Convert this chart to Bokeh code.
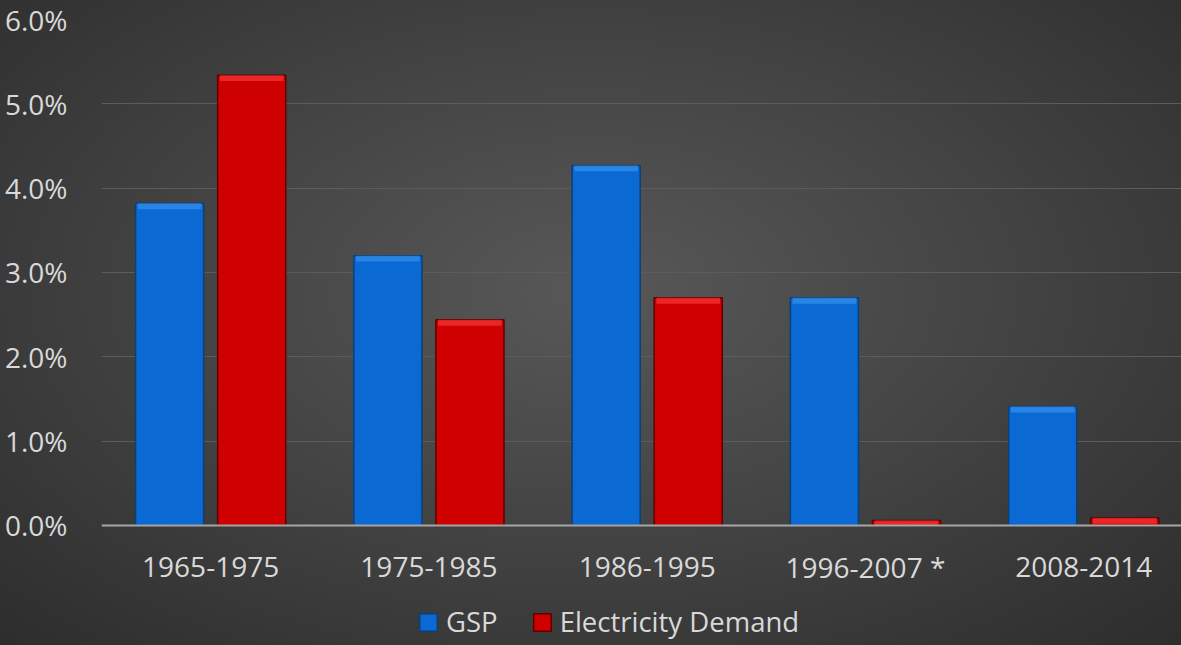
import numpy as np
from bokeh.plotting import figure
from bokeh.models import (ColumnDataSource, Range1d, FixedTicker, PrintfTickFormatter,
                          Legend, LegendItem, Span)
from bokeh.core.properties import value
from bokeh.embed import file_html
from bokeh.resources import INLINE

# Average annual growth by period
periods = ["1965-1975", "1975-1985", "1986-1995", "1996-2007 *", "2008-2014"]
gsp = [3.82, 3.20, 4.27, 2.70, 1.41]
demand = [5.34, 2.44, 2.70, 0.06, 0.09]
series_names = ["GSP", "Electricity Demand"]
y_ticks = [0, 1, 2, 3, 4, 5, 6]

FONT = "Open Sans"
TEXT = "#d9d9d9"
BLUE, BLUE_EDGE, BLUE_HI = "#0b69d3", "#0b3f7a", "#3c98f2"
RED, RED_EDGE, RED_HI = "#cf0000", "#5e0000", "#ff4040"

pos = np.arange(len(periods)) + 0.5
offset, bar_w = 0.188, 0.312

src = ColumnDataSource(dict(
    x_gsp=pos - offset, x_dem=pos + offset,
    gsp=gsp, demand=demand,
    gsp_hi=np.maximum(np.array(gsp) - 0.07, 0), dem_hi=np.maximum(np.array(demand) - 0.07, 0),
))
labels = ColumnDataSource(dict(x=pos, y=np.full(len(pos), -0.49), text=periods))

# the frame runs to the bottom edge; the region below zero holds the
# category labels and the legend
p = figure(width=1181, height=645, output_backend="svg", toolbar_location=None,
           x_range=Range1d(0, 4.948), y_range=Range1d(-1.423, 6),
           x_axis_location=None,
           min_border_left=101, min_border_right=0, min_border_top=19, min_border_bottom=0)

# dark radial backdrop behind a transparent canvas
p.background_fill_alpha = 0
p.border_fill_alpha = 0
p.outline_line_color = None
p.styles = {"background": "radial-gradient(ellipse 75% 80% at 50% 45%, #585858 0%, #424242 50%, #2b2b2b 100%)"}

p.ygrid.ticker = FixedTicker(ticks=y_ticks[1:])
p.xgrid.grid_line_color = None
p.ygrid.grid_line_color = "#5c5c5c"
p.ygrid.grid_line_width = 1

r_gsp = p.vbar(x="x_gsp", top="gsp", width=bar_w, source=src,
               fill_color=BLUE, line_color=BLUE_EDGE, line_width=1.5)
p.vbar(x="x_gsp", top="gsp", bottom="gsp_hi", width=bar_w - 0.02, source=src,
       fill_color=BLUE_HI, fill_alpha=0.6, line_color=None)
r_dem = p.vbar(x="x_dem", top="demand", width=bar_w, source=src,
               fill_color=RED, line_color=RED_EDGE, line_width=1.5)
p.vbar(x="x_dem", top="demand", bottom="dem_hi", width=bar_w - 0.02, source=src,
       fill_color=RED_HI, fill_alpha=0.6, line_color=None)

# baseline at zero
p.add_layout(Span(location=0, dimension="width", line_color="#a6a6a6", line_width=2))

# category labels
p.text(x="x", y="y", text="text", source=labels, text_align="center", text_baseline="middle",
       text_font=value(FONT), text_font_size="28px", text_color=TEXT)

# value axis
p.yaxis.ticker = FixedTicker(ticks=y_ticks)
p.yaxis.formatter = PrintfTickFormatter(format="%.1f%%")
p.yaxis.axis_line_color = None
p.yaxis.major_tick_line_color = None
p.yaxis.minor_tick_line_color = None
p.yaxis.major_label_standoff = 28
p.yaxis.major_label_text_font = FONT
p.yaxis.major_label_text_font_size = "28px"
p.yaxis.major_label_text_color = TEXT

legend = Legend(items=[LegendItem(label=series_names[0], renderers=[r_gsp]),
                       LegendItem(label=series_names[1], renderers=[r_dem])],
                orientation="horizontal", location=(316, 5))
legend.background_fill_alpha = 0
legend.border_line_color = None
legend.label_text_font = FONT
legend.label_text_font_size = "27.5px"
legend.label_text_color = TEXT
legend.glyph_width = 22
legend.glyph_height = 22
legend.spacing = 33
legend.label_standoff = 7
legend.margin = 0
legend.padding = 4
p.add_layout(legend, "center")

open("out.html", "w").write(file_html(p, INLINE))
